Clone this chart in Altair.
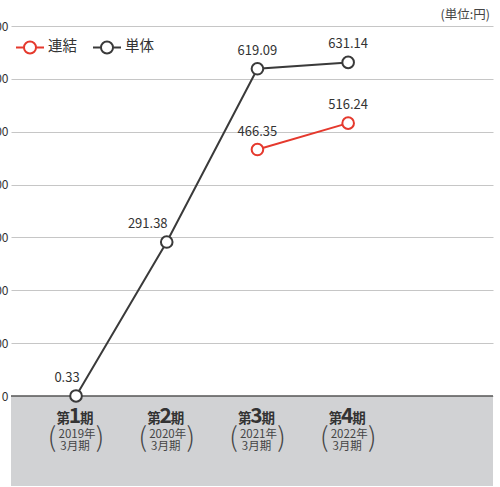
import altair as alt
import pandas as pd

FONT = "Noto Sans CJK JP"

periods = [1, 2, 3, 4]
period_nums = ["1", "2", "3", "4"]
period_years = ["2019年", "2020年", "2021年", "2022年"]
period_sub = ["3月期", "3月期", "3月期", "3月期"]
series_names = ["連結", "単体"]
consolidated = [None, None, 466.35, 516.24]
standalone = [0.33, 291.38, 619.09, 631.14]
label_dx = {("単体", 1): -9, ("単体", 2): -19}
y_ticks = [0, 100, 200, 300, 400, 500, 600, 700]

rows = []
for s, vals in zip(series_names, [consolidated, standalone]):
    for p, v in zip(periods, vals):
        if v is not None:
            rows.append({"series": s, "period": p, "value": v,
                         "label": f"{v:.2f}", "dx": label_dx.get((s, p), 0)})
df = pd.DataFrame(rows)
cat = pd.DataFrame({"period": periods, "num": period_nums,
                    "year": period_years, "sub": period_sub})

W, H = 482, 460
xs = alt.Scale(domain=[0.283, 5.597], nice=False, zero=False)
ys = alt.Scale(domain=[-170, 700], nice=False, zero=False)
color_scale = alt.Scale(domain=series_names, range=["#e5392d", "#3a3a3a"])

X = alt.X("period:Q", scale=xs, axis=None)
Y = alt.Y("value:Q", scale=ys,
          axis=alt.Axis(values=y_ticks, grid=True, gridColor="#c6c6c6", gridWidth=1,
                        domain=False, ticks=False, labelPadding=3, labelFontSize=12,
                        labelColor="#333", labelFont=FONT, title=None))

band = alt.Chart(pd.DataFrame({"value": [-170], "value2": [0]})).mark_rect(color="#d1d2d4").encode(
    x=alt.value(0), x2=alt.value(W), y=Y, y2="value2:Q")

zero = alt.Chart(pd.DataFrame({"value": [0]})).mark_rule(color="#555", strokeWidth=1.5).encode(
    x=alt.value(0), x2=alt.value(W), y=Y)

circle_path = ("M -0.43 0 A 0.43 0.43 0 1 1 0.43 0 A 0.43 0.43 0 1 1 -0.43 0 Z "
               "M -1 0 L -0.43 0 M 0.43 0 L 1 0")

lines = alt.Chart(df).mark_line(strokeWidth=2).encode(
    x=X, y=Y,
    color=alt.Color("series:N", scale=color_scale, sort=series_names,
                    legend=alt.Legend(title=None, orient="none", direction="horizontal",
                                      legendX=4, legendY=6, symbolType=circle_path,
                                      symbolSize=784, symbolStrokeWidth=2,
                                      symbolFillColor="white", labelFont=FONT,
                                      labelFontSize=14.5, labelColor="#333",
                                      labelOffset=3, columnPadding=12)),
    detail="series:N")

points = alt.Chart(df).mark_point(shape="circle", filled=True, fill="white",
                                  strokeWidth=2, size=135, opacity=1).encode(
    x=X, y=Y,
    stroke=alt.Stroke("series:N", scale=color_scale, legend=None))

labels = []
for d in sorted(df["dx"].unique()):
    labels.append(alt.Chart(df).transform_filter(alt.datum.dx == int(d)).mark_text(
        font=FONT, fontSize=13, color="#333", dy=-18, dx=int(d)).encode(
        x=X, y=Y, text="label:N"))

def cat_text(field, yv, size, weight, align="center", dx=0, color="#333", baseline="alphabetic"):
    return alt.Chart(cat).mark_text(font=FONT, fontSize=size, fontWeight=weight, align=align,
                                    dx=dx, color=color, baseline=baseline).encode(
        x=X, y=alt.value(yv), text=field)

cat["dai"] = "第"
cat["ki"] = "期"
cat["lp"] = "("
cat["rp"] = ")"
xlab = [
    cat_text("dai:N", 396.5, 13.5, "bold", align="right", dx=-6),
    cat_text("num:N", 396.5, 21, "bold", align="center", dx=-1),
    cat_text("ki:N", 396.5, 13.5, "bold", align="left", dx=4),
    cat_text("year:N", 412, 11.5, "normal", dx=1, color="#444"),
    cat_text("sub:N", 424, 11.5, "normal", dx=-1, color="#444"),
    cat_text("lp:N", 413, 27, 300, dx=-24, color="#444", baseline="middle"),
    cat_text("rp:N", 413, 27, 300, dx=24, color="#444", baseline="middle"),
]

unit = alt.Chart(pd.DataFrame({"t": ["(単位:円)"]})).mark_text(
    font=FONT, fontSize=12.5, color="#444", align="right", baseline="middle").encode(
    x=alt.value(479), y=alt.value(-11), text="t:N")

chart = alt.layer(band, lines, zero, points, *labels, *xlab, unit).properties(
    width=W, height=H, padding={"left": 11, "top": 26, "right": 7, "bottom": 1},
    autosize=alt.AutoSizeParams(type="none"), background="white"
).configure_view(stroke=None)

chart.save("out.html", embed_options={"renderer": "svg", "actions": False})
